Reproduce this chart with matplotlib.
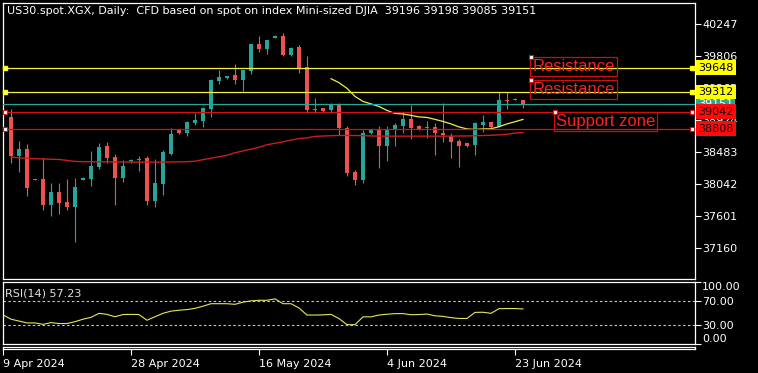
import matplotlib

matplotlib.use("Agg")
import matplotlib.pyplot as plt
import matplotlib.transforms as mtransforms
import numpy as np

W, H = 758, 373

title = "US30.spot.XGX, Daily:  CFD based on spot on index Mini-sized DJIA  39196 39198 39085 39151"

# daily bars, index 0 = 9 Apr 2024 (Sunday bars included)
bar_index = list(range(1, 66))
opens = [38961, 38428, 38520, 38100, 38107, 37762, 37941, 37790, 37725, 38105,
         38120, 38276, 38562, 38410, 38134, 38360, 38380, 38396, 37817, 38038,
         38464, 38786, 38745, 38883, 38910, 39071, 39457, 39501, 39540, 39471,
         39599, 39967, 39908, 40059, 40081, 39816, 39926, 39654, 39070, 39085,
         39058, 39127, 38819, 38207, 38097, 38750, 38786, 38566, 38786, 38841,
         38933, 38837, 38810, 38833, 38750, 38704, 38630, 38603, 38580, 38860,
         38896, 38828, 39195, 39212, 39196]
highs = [39081, 38635, 38589, 38118, 38406, 38061, 38052, 38107, 38130, 38140,
         38497, 38603, 38617, 38461, 38369, 38390, 38430, 38428, 38382, 38511,
         38810, 38805, 38906, 39016, 39108, 39485, 39609, 39535, 39696, 39613,
         39977, 40081, 40022, 40090, 40119, 39935, 39957, 39806, 39233, 39090,
         39154, 39154, 38841, 38235, 38782, 38800, 38841, 38841, 38878, 39040,
         39127, 38850, 38906, 38888, 39163, 38750, 38658, 38610, 38902, 38988,
         38896, 39310, 39310, 39227, 39198]
lows = [38337, 38207, 37877, 38095, 37684, 37611, 37629, 37684, 37243, 38095,
        38014, 38245, 38337, 37762, 38070, 38330, 38230, 37762, 37725, 37890,
        38437, 38730, 38703, 38851, 38827, 38971, 39426, 39490, 39426, 39319,
        39563, 39861, 39839, 40050, 39806, 39806, 39577, 39026, 39026, 39030,
        39026, 38713, 38152, 38034, 38061, 38730, 38268, 38359, 38566, 38741,
        38658, 38790, 38676, 38437, 38621, 38396, 38282, 38560, 38442, 38759,
        38820, 38828, 39071, 39195, 39085]
closes = [38428, 38520, 37987, 38110, 37762, 37941, 37780, 37725, 37997, 38125,
          38286, 38548, 38396, 38134, 38286, 38380, 38390, 37817, 38052, 38483,
          38727, 38745, 38892, 38924, 39085, 39475, 39516, 39535, 39471, 39613,
          39977, 39898, 40022, 40081, 39816, 39922, 39646, 39058, 39075, 39048,
          39127, 38819, 38190, 38097, 38750, 38786, 38566, 38805, 38850, 38933,
          38819, 38800, 38830, 38741, 38717, 38621, 38566, 38566, 38878, 38896,
          38828, 39195, 39181, 39200, 39151]

ma_slow = [38415, 38405, 38398, 38392, 38390, 38385, 38382, 38370, 38355, 38352,
           38351, 38350, 38350, 38349, 38348, 38347, 38346, 38345, 38345, 38346,
           38348, 38350, 38352, 38358, 38380, 38400, 38420, 38440, 38475, 38500,
           38525, 38550, 38585, 38605, 38625, 38650, 38670, 38680, 38700, 38705,
           38710, 38712, 38713, 38712, 38710, 38706, 38704, 38703, 38703, 38703,
           38703, 38703, 38703, 38703, 38703, 38704, 38705, 38706, 38708, 38712,
           38716, 38720, 38730, 38745, 38752]
ma_fast_index = list(range(41, 66))
ma_fast = [39494, 39439, 39361, 39250, 39181, 39147, 39112, 39057, 39016, 39009,
           38989, 38968, 38961, 38934, 38906, 38872, 38830, 38803, 38796, 38803,
           38805, 38833, 38872, 38902, 38934]

rsi_index = list(range(0, 66))
rsi = [47, 40, 37, 34, 34, 31.7, 34.5, 33, 33, 36,
       40, 43, 49.5, 47.8, 44, 47.5, 47.8, 47.5, 38.3, 44,
       49.5, 53, 54.5, 55.5, 57.5, 61, 65, 65, 65, 64,
       67.5, 69.5, 70.5, 70.5, 72.8, 65, 65, 58, 46.7, 46.7,
       47, 47.8, 41, 31.2, 31.2, 43.8, 43.8, 46.7, 48, 49,
       49, 47.2, 47.5, 48.3, 45.5, 44.5, 42.5, 41.2, 41.2, 51,
       51.2, 49.5, 57, 57.2, 57.2, 56.5]
rsi_label = "RSI(14) 57.23"

price_ticks = [40247, 39806, 39365, 38924, 38483, 38042, 37601, 37160]
rsi_ticks = [100, 70, 30, 0]
rsi_tick_labels = ["100.00", "70.00", "30.00", "0.00"]
date_ticks = [0, 16, 32, 48, 64]
date_labels = ["9 Apr 2024", "28 Apr 2024", "16 May 2024", "4 Jun 2024", "23 Jun 2024"]

res_levels = [39648, 39312]
sup_levels = [39042, 38808]
bid_level = 39151

note_texts = ["Resistance", "Resistance", "Support zone"]
note_bars = [66, 66, 69]
note_prices = [39789, 39472, 39032]

UP = "#26a69a"
DOWN = "#ef5350"
LINE_RED = "#d01414"
YELLOW = "#f2f23c"


def px_rect(x0, y0, x1, y1):
    return [x0 / W, 1 - y1 / H, (x1 - x0) / W, (y1 - y0) / H]


def style_box(ax):
    ax.set_facecolor("black")
    for sp in ax.spines.values():
        sp.set_color("white")
        sp.set_linewidth(0.9)


fig = plt.figure(figsize=(W / 100, H / 100), dpi=100, facecolor="black")
ax = fig.add_axes(px_rect(3, 3, 695, 279))
rax = fig.add_axes(px_rect(3, 282, 695, 344))
tax = fig.add_axes(px_rect(3, 346.5, 695, 349))
for a in (ax, rax, tax):
    style_box(a)
    a.set_xlim(0, 86.5)

# --- candles
x = np.asarray(bar_index)
o = np.asarray(opens, dtype=float)
c = np.asarray(closes, dtype=float)
hi = np.asarray(highs, dtype=float)
lo = np.asarray(lows, dtype=float)
cols = np.where(c >= o, UP, DOWN)
ax.vlines(x, lo, hi, colors=cols, linewidth=0.8, zorder=2)
body = np.maximum(np.abs(c - o), 12)
ax.bar(x, body, bottom=np.minimum(o, c), width=0.62, color=cols, linewidth=0, zorder=2.2)

ax.plot(x, ma_slow, color="#c81e1e", lw=1.0, zorder=2.4)
ax.plot(ma_fast_index, ma_fast, color="#eeee50", lw=0.9, zorder=2.4)

ax.set_ylim(36737, 40536)
ax.set_xticks([])
ax.yaxis.tick_right()
ax.set_yticks(price_ticks)
ax.set_yticklabels([str(v) for v in price_ticks])
ax.tick_params(axis="y", colors="white", labelsize=8, length=4, width=0.8, pad=1)

blend = mtransforms.blended_transform_factory(ax.transAxes, ax.transData)
ax.axhline(bid_level, color=UP, lw=0.9, zorder=2.6)
ax.text(1.0045, bid_level, str(bid_level), transform=blend, ha="left", va="center",
        fontsize=8, color="white", zorder=5, clip_on=False,
        bbox=dict(boxstyle="square,pad=0.2", fc=UP, ec="none"))
for lvl in res_levels:
    ax.axhline(lvl, color=YELLOW, lw=0.9, zorder=2.6)
    ax.text(1.0045, lvl, str(lvl), transform=blend, ha="left", va="center",
            fontsize=8, color="black", zorder=6, clip_on=False,
            bbox=dict(boxstyle="square,pad=0.2", fc="#ffff00", ec="none"))
    ax.plot([0.003, 0.9957], [lvl, lvl], transform=blend, ls="none", marker="s", ms=3.5,
            mfc="#ffff80", mec="#ffff00", clip_on=False, zorder=7)
for lvl in sup_levels:
    ax.axhline(lvl, color=LINE_RED, lw=0.9, zorder=2.6)
    ax.text(1.0045, lvl, str(lvl), transform=blend, ha="left", va="center",
            fontsize=8, color="#200000", zorder=6, clip_on=False,
            bbox=dict(boxstyle="square,pad=0.2", fc="#ff0a0a", ec="none"))
    ax.plot([0.003, 0.9957], [lvl, lvl], transform=blend, ls="none", marker="s", ms=3.5,
            mfc="white", mec=LINE_RED, mew=0.8, clip_on=False, zorder=7)

for txt, bx, py in zip(note_texts, note_bars, note_prices):
    ax.text(bx + 0.15, py - 20, txt, ha="left", va="top", fontsize=12,
            family=["Liberation Sans", "DejaVu Sans"], color="#ff2020", zorder=8,
            bbox=dict(boxstyle="square,pad=0.12", fc="none", ec="#c81010", lw=0.9))
    ax.plot([bx], [py], ls="none", marker="s", ms=3.5, mfc="white", mec=LINE_RED,
            mew=0.8, zorder=9, clip_on=False)

fig.text(7 / W, 1 - 11 / H, title, color="white", fontsize=8, va="center", ha="left")

# --- RSI
rax.plot(rsi_index, rsi, color="#e6e65a", lw=0.8)
for lvl in (70, 30):
    rax.axhline(lvl, color="#c8c8c8", lw=0.8, dashes=(2.2, 2.2))
rax.set_ylim(0, 100)
rax.set_xticks([])
rax.yaxis.tick_right()
rax.set_yticks(rsi_ticks)
rax.set_yticklabels(rsi_tick_labels)
rax.tick_params(axis="y", colors="white", labelsize=8, length=4, width=0.8, pad=1)
rlabels = rax.get_yticklabels()
rlabels[0].set_va("top")
rlabels[-1].set_va("bottom")
rax.text(2 / 692, 1 - 11 / 62, rsi_label, transform=rax.transAxes, color="#e0e0e0",
         fontsize=8, va="center", ha="left")

# --- time scale
tax.set_ylim(0, 1)
tax.set_yticks([])
tax.set_xticks(date_ticks)
tax.set_xticklabels(date_labels)
tax.tick_params(axis="x", colors="white", labelsize=8, length=4, width=0.8, pad=3)
for lab in tax.get_xticklabels():
    lab.set_ha("left")

fig.savefig("out.png", dpi=100, facecolor="black")
